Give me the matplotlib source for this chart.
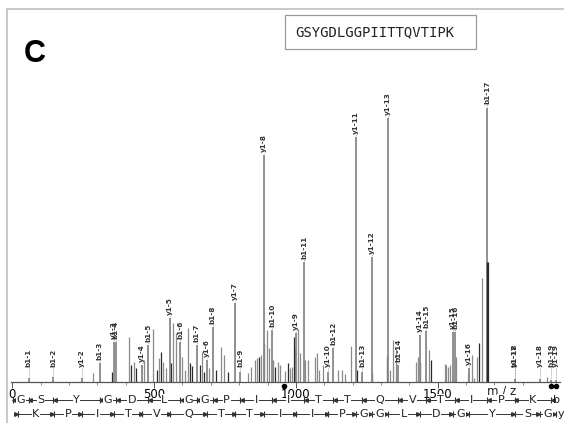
import matplotlib.pyplot as plt
from matplotlib.patches import Rectangle
from matplotlib.ticker import MultipleLocator

# Labelled fragment ions: name, m/z, relative intensity (% of base peak)
ion_names = ['b1-1', 'b1-2', 'y1-2', 'b1-3', 'y1-3', 'b1-4', 'y1-4', 'b1-5',
             'y1-5', 'b1-6', 'b1-7', 'y1-6', 'b1-8', 'y1-7', 'b1-9', 'y1-8',
             'b1-10', 'y1-9', 'b1-11', 'y1-10', 'b1-12', 'y1-11', 'b1-13',
             'y1-12', 'y1-13', 'b1-14', 'y1-14', 'b1-15', 'y1-15', 'b1-16',
             'y1-16', 'b1-17', 'b1-18', 'y1-17', 'y1-18', 'b1-19', 'y1-19']
ion_mz = [58, 145, 244, 308, 357, 365, 458, 480, 557, 593, 650, 685, 707,
          786, 804, 888, 917, 1001, 1030, 1114, 1131, 1211, 1233, 1268, 1325,
          1361, 1438, 1460, 1553, 1561, 1610, 1674, 1771, 1773, 1860, 1899,
          1917]
ion_int = [1.3, 1.7, 1.3, 6.8, 14.5, 14.5, 6.1, 13.4, 23.2, 14.5, 13.4, 7.9,
           20.0, 28.7, 3.5, 82.7, 18.9, 17.8, 43.7, 3.5, 12.3, 89.3, 3.5, 45.5,
           96.2, 6.1, 17.0, 18.5, 18.1, 18.1, 5.0, 100.0, 1.0, 1.0, 1.0, 0.5,
           0.5]

# Unassigned peaks: m/z, intensity, shade ('g' grey, 'k' dark)
other_mz = [285, 353, 419, 411, 429, 436, 464, 496, 510, 517, 524, 531, 542,
            560, 567, 577, 598, 609, 620, 627, 634, 662, 669, 676, 693, 718,
            736, 747, 761, 831, 842, 856, 863, 870, 877, 889, 898, 905, 919,
            926, 937, 944, 961, 972, 979, 986, 993, 998, 1007, 1014, 1032,
            1043, 1067, 1074, 1081, 1096, 1148, 1162, 1173, 1194, 1215, 1268,
            1321, 1332, 1342, 1353, 1423, 1430, 1438, 1469, 1476, 1526, 1529,
            1536, 1543, 1564, 1607, 1621, 1628, 1638, 1646, 1656, 1676, 1885]
other_int = [3.2, 3.5, 6.1, 16.3, 7.2, 5.0, 7.9, 19.2, 4.3, 8.6, 10.8, 7.2,
             5.0, 6.8, 21.4, 17.8, 9.0, 4.3, 19.6, 6.8, 5.7, 6.1, 10.8, 3.5,
             5.0, 4.3, 12.7, 9.7, 3.5, 3.2, 5.4, 7.9, 8.6, 9.0, 9.7, 14.0,
             18.9, 12.3, 7.9, 5.4, 7.2, 6.1, 3.9, 6.8, 5.0, 5.4, 16.3, 12.3,
             19.2, 10.5, 7.9, 7.9, 9.0, 10.5, 4.3, 6.1, 4.3, 4.3, 2.8, 13.0,
             4.3, 3.2, 9.4, 4.3, 15.2, 12.3, 7.2, 9.0, 7.2, 11.6, 7.9, 6.5,
             6.1, 5.4, 6.1, 9.0, 2.8, 9.7, 1.3, 9.0, 14.1, 38.0, 43.7, 1.7]
other_shade = ['g', 'k', 'k', 'g', 'g', 'k', 'g', 'g', 'k', 'g', 'k', 'g',
               'g', 'k', 'g', 'g', 'g', 'g', 'g', 'k', 'k', 'k', 'g', 'k',
               'g', 'k', 'g', 'g', 'k', 'g', 'g', 'g', 'g', 'k', 'g', 'k',
               'g', 'g', 'g', 'k', 'g', 'g', 'g', 'k', 'g', 'g', 'k', 'k',
               'g', 'g', 'g', 'g', 'g', 'g', 'g', 'g', 'g', 'g', 'g', 'g',
               'k', 'k', 'k', 'g', 'g', 'g', 'g', 'g', 'k', 'g', 'k', 'g',
               'g', 'g', 'g', 'g', 'g', 'g', 'g', 'g', 'k', 'g', 'k', 'g']

# Precursor markers below the axis
precursor_mz = [959, 1899, 1917]

# Sequence ladders (fragment boundaries and residues)
b_edges = [1, 58, 145, 308, 365, 480, 593, 650, 707, 804, 917, 1030, 1131,
           1233, 1361, 1460, 1561, 1674, 1771, 1899]
b_residues = ['G', 'S', 'Y', 'G', 'D', 'L', 'G', 'G', 'P', 'I', 'I', 'T', 'T',
              'Q', 'V', 'T', 'I', 'P', 'K']
y_edges = [19, 147, 244, 357, 458, 557, 685, 786, 888, 1001, 1114, 1211,
           1268, 1325, 1438, 1553, 1610, 1773, 1860, 1917]
y_residues = ['K', 'P', 'I', 'T', 'V', 'Q', 'T', 'T', 'I', 'I', 'P', 'G', 'G',
              'L', 'D', 'G', 'Y', 'S', 'G']

sequence = 'GSYGDLGGPIITTQVTIPK'

W, H = 564, 423
GREY = '#8a8a8a'
DARK = '#2a2a2a'
narrow = ['Liberation Sans Narrow', 'DejaVu Sans']

fig = plt.figure(figsize=(W / 100, H / 100), dpi=100)

# pixel helpers
px_x = lambda x: x / W
px_y = lambda y: 1 - y / H

base_px, top_px = 381.7, 30
ax = fig.add_axes([px_x(11), px_y(base_px), (560 - 11) / W,
                   (base_px - top_px) / H])
ax.set_xlim(-4.6, 1931)
ax.set_ylim(0, (base_px - top_px) / 2.74)

for s in ['top', 'right', 'left']:
    ax.spines[s].set_visible(False)
ax.spines['bottom'].set_color('#555555')
ax.spines['bottom'].set_linewidth(0.9)
ax.set_yticks([])
ax.set_xticks([0, 500, 1000, 1500])
ax.xaxis.set_minor_locator(MultipleLocator(100))
ax.tick_params(axis='x', which='major', length=4, width=0.7, color='#555555',
               pad=0.5, labelsize=8.5)
ax.tick_params(axis='x', which='minor', length=2.2, width=0.6, color='#777777')
for t in ax.get_xticklabels():
    t.set_family(narrow)

# unassigned peaks
cols = [GREY if s == 'g' else DARK for s in other_shade]
ax.vlines(other_mz, 0, other_int, colors=cols, linewidth=0.9)

# labelled peaks with leader dots and vertical labels
for name, mz, inten in zip(ion_names, ion_mz, ion_int):
    lab_y = max(inten + 1.2, 5.2)
    ax.vlines(mz, 0, lab_y, colors='#9a9a9a', linewidth=0.6,
              linestyles=(0, (1, 1)))
    ax.vlines(mz, 0, inten, colors=GREY, linewidth=1.3)
    ax.text(mz, lab_y, name, rotation=90, ha='center', va='bottom',
            fontsize=5.2, fontweight='bold', color='#333333',
            family=narrow)

# dark components overlapping the tallest ions
ax.vlines([1674], 0, [43.7], colors=DARK, linewidth=1.0)

# precursor markers
ax.plot(precursor_mz, [-1.6] * len(precursor_mz), 'o', color='black',
        markersize=3, clip_on=False)

ax.text(1725, -1.2, 'm / z', ha='center', va='top', fontsize=8.5,
        family=narrow, color='#222222')

# sequence ladders beneath the axis
tr = ax.get_xaxis_transform()


def ladder(edges, residues, yrow, arrow, end_label):
    ax.plot([edges[0], edges[-1]], [yrow, yrow], color='#333333', lw=0.7,
            transform=tr, clip_on=False)
    ax.plot(edges, [yrow] * len(edges), '|', color='#333333', ms=4,
            mew=0.8, transform=tr, clip_on=False)
    off = 6 if arrow == '<' else -6
    ax.plot([e + off for e in edges], [yrow] * len(edges), arrow,
            color='#333333', ms=2.6, transform=tr, clip_on=False)
    for a, b, r in zip(edges[:-1], edges[1:], residues):
        ax.text((a + b) / 2, yrow, r, ha='center', va='center', fontsize=8,
                family=narrow, color='#222222', transform=tr,
                bbox=dict(facecolor='white', edgecolor='none', pad=0.4))
    ax.text(edges[-1] + 7, yrow, end_label, ha='left', va='center',
            fontsize=8, family=narrow, color='#222222', transform=tr)


row1 = -(400 - base_px) / (base_px - top_px)
row2 = -(414 - base_px) / (base_px - top_px)
ladder(b_edges, b_residues, row1, '<', 'b')
ladder(y_edges, y_residues, row2, '>', 'y')

# panel frame
fig.add_artist(plt.Line2D([px_x(7), px_x(7)], [px_y(9), 0],
                          color='#c4c4c4', lw=1.3))
fig.add_artist(plt.Line2D([px_x(7), 1], [px_y(9), px_y(9)],
                          color='#c4c4c4', lw=1.3))

# panel letter
fig.text(px_x(24), px_y(62), 'C', fontsize=22, fontweight='bold',
         family='Liberation Sans', ha='left', va='baseline')

# peptide sequence box
fig.add_artist(Rectangle((px_x(285), px_y(49)), (476 - 285) / W, 34 / H,
                         transform=fig.transFigure, fill=False,
                         edgecolor='#9a9a9a', linewidth=0.9))
fig.text(px_x(295), px_y(32), sequence, fontsize=10,
         family='DejaVu Sans Mono', ha='left', va='center', color='#222222')

fig.savefig('out.png', dpi=100)
